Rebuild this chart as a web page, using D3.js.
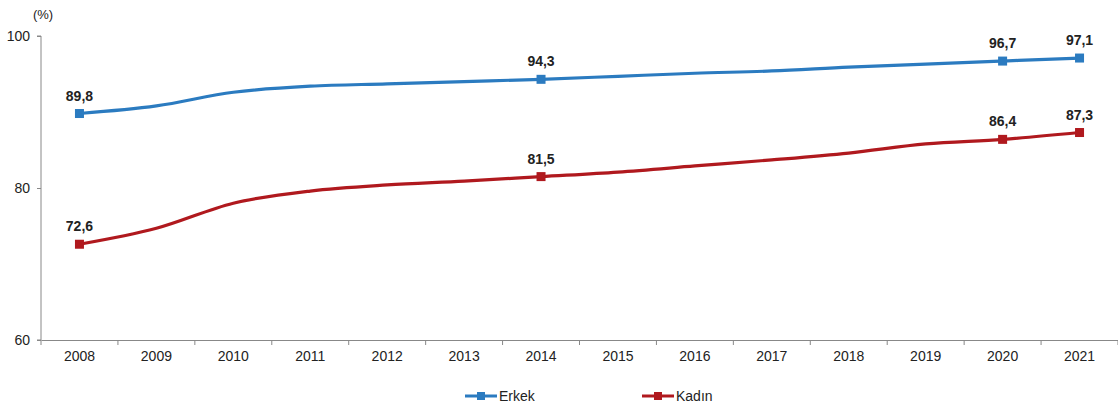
<!DOCTYPE html>
<html><head><meta charset="utf-8">
<script src="https://cdn.jsdelivr.net/npm/d3@7"></script>
<style>body{margin:0;background:#fff}svg{display:block;font-family:"Liberation Sans",Arial,sans-serif}</style>
</head><body><svg id="c" width="1118" height="408"></svg>
<script>
const years = ["2008","2009","2010","2011","2012","2013","2014","2015","2016","2017","2018","2019","2020","2021"];
const erkek = [89.8,90.8,92.6,93.4,93.7,94.0,94.3,94.7,95.1,95.4,95.9,96.3,96.7,97.1];
const kadin = [72.6,74.7,78.0,79.6,80.4,80.9,81.5,82.1,82.9,83.7,84.6,85.8,86.4,87.3];
const labelled = ["2008","2014","2020","2021"];
const yTicks = [60,80,100];
const seriesNames = ["Erkek","Kadın"];
const colors = ["#2B7BC0","#B0191E"];

const svg = d3.select("#c");
const x = d3.scaleBand().domain(years).range([41,1118]);
const y = d3.scaleLinear().domain([60,100]).range([340,36]);
const fmt = v => d3.format(".1f")(v).replace(".",",");

// axes
const ya = svg.append("g").attr("transform","translate(41,0)")
  .call(d3.axisLeft(y).tickValues(yTicks).tickSize(4).tickPadding(7));
ya.select(".domain").attr("stroke","#888").attr("d","M-4,36H0V340H-4");
ya.selectAll(".tick line").attr("stroke","#888");
ya.selectAll("text").attr("font-size",14).attr("fill","#222").attr("font-family","Liberation Sans, Arial");

const xa = svg.append("g").attr("transform","translate(0,340)")
  .call(d3.axisBottom(x).tickSize(0).tickPadding(11));
xa.select(".domain").attr("stroke","#888");
xa.selectAll("text").attr("font-size",14).attr("fill","#222").attr("font-family","Liberation Sans, Arial");
// tick marks at band boundaries
svg.append("g").selectAll("line").data(years.concat(["end"])).join("line")
  .attr("x1",(d,i)=>41+i*x.bandwidth()).attr("x2",(d,i)=>41+i*x.bandwidth())
  .attr("y1",340).attr("y2",345).attr("stroke","#888");

svg.append("text").attr("x",43).attr("y",19).attr("text-anchor","middle")
  .attr("font-size",13).attr("fill","#222").text("(%)");

const cx = d => x(d)+x.bandwidth()/2;
const line = d3.line().x((d,i)=>cx(years[i])).y(d=>y(d)).curve(d3.curveMonotoneX);

[erkek,kadin].forEach((vals,k)=>{
  svg.append("path").attr("d",line(vals)).attr("fill","none")
    .attr("stroke",colors[k]).attr("stroke-width",3.2);
  const pts = years.map((yr,i)=>({yr,v:vals[i]})).filter(p=>labelled.includes(p.yr));
  svg.append("g").selectAll("rect").data(pts).join("rect")
    .attr("x",p=>cx(p.yr)-4.5).attr("y",p=>y(p.v)-4.5).attr("width",9).attr("height",9)
    .attr("fill",colors[k]);
  svg.append("g").selectAll("text").data(pts).join("text")
    .attr("x",p=>cx(p.yr)).attr("y",p=>y(p.v)-13).attr("text-anchor","middle")
    .attr("font-size",14).attr("font-weight","bold").attr("fill","#222").text(p=>fmt(p.v));
});

// legend
const legX = [465,642];
seriesNames.forEach((n,k)=>{
  const g = svg.append("g").attr("transform",`translate(${legX[k]},396)`);
  g.append("line").attr("x1",0).attr("x2",32).attr("stroke",colors[k]).attr("stroke-width",3);
  g.append("rect").attr("x",12).attr("y",-4).attr("width",8).attr("height",8).attr("fill",colors[k]);
  g.append("text").attr("x",34).attr("y",5).attr("font-size",14).attr("fill","#222").text(n);
});
</script></body></html>
